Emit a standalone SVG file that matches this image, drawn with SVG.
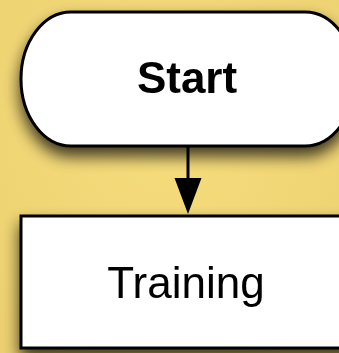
<svg xmlns="http://www.w3.org/2000/svg" width="339" height="353" viewBox="0 0 339 353">
<defs>
<filter id="sh" x="-20%" y="-20%" width="140%" height="150%">
<feGaussianBlur in="SourceAlpha" stdDeviation="8"/>
<feOffset dx="0" dy="9" result="b"/>
<feComponentTransfer><feFuncA type="linear" slope="0.75"/></feComponentTransfer>
<feMerge><feMergeNode/><feMergeNode in="SourceGraphic"/></feMerge>
</filter>
<radialGradient id="bg" cx="0.5" cy="0.35" r="0.8">
<stop offset="0" stop-color="#f6dd7c"/>
<stop offset="1" stop-color="#ecd070"/>
</radialGradient>
<style>
.node{fill:#fff;stroke:#000;stroke-width:3}
.lbl{font-family:"Liberation Sans",Arial,sans-serif;font-size:44px;text-anchor:middle;fill:#000}
.edge{stroke:#000;stroke-width:3;fill:none}
</style>
</defs>
<rect width="339" height="353" fill="url(#bg)"/>
<g id="connectors">
<path class="edge" d="M188,146 L188,181"/>
<path d="M174.5,178 L201.5,178 L188,214 Z" fill="#000"/>
</g>
<g id="start" filter="url(#sh)">
<rect class="node" x="21" y="12" width="334" height="134" rx="50" ry="67"/>
<text class="lbl" x="187" y="93" font-weight="bold">Start</text>
</g>
<g id="training" filter="url(#sh)">
<rect class="node" x="21" y="216" width="334" height="132"/>
<text class="lbl" x="186" y="298">Training</text>
</g>
</svg>
